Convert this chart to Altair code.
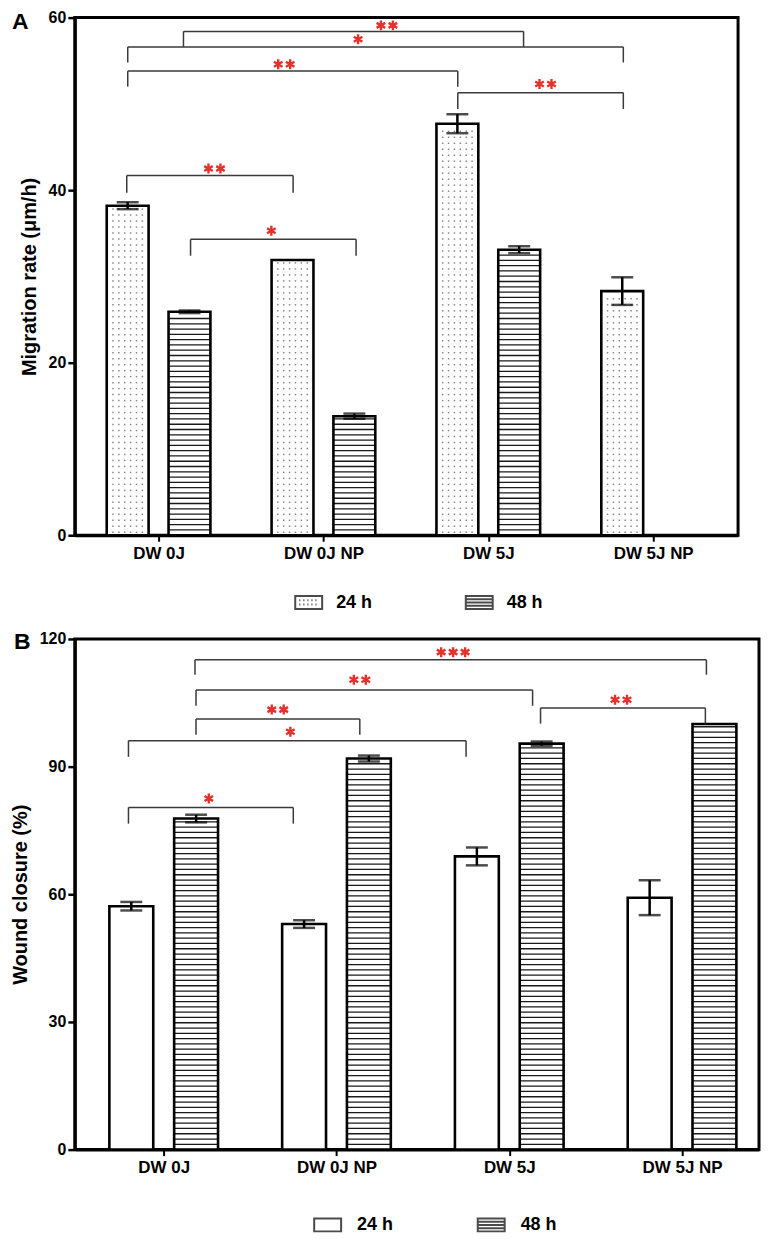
import altair as alt
import pandas as pd

# ---------------- data ----------------
groups = ["DW 0J", "DW 0J NP", "DW 5J", "DW 5J NP"]
series = ["24 h", "48 h"]

# Panel A: migration rate (um/h)
a_24 = [38.2, 31.9, 47.7, 28.3]
a_24_err = [0.4, 0.0, 1.1, 1.6]
a_48 = [25.9, 13.8, 33.1, None]
a_48_err = [0.15, 0.3, 0.4, None]

# Panel B: wound closure (%)
b_24 = [57.2, 53.0, 68.9, 59.2]
b_24_err = [1.0, 0.9, 2.1, 4.1]
b_48 = [77.8, 91.9, 95.4, 100.0]
b_48_err = [0.9, 0.7, 0.5, 0.0]

# significance brackets (x in group units, y in data units)
a_br_x1 = [0.651, 0.313, 0.313, 2.315, 0.307, 0.694]
a_br_x2 = [2.714, 3.319, 2.315, 3.319, 1.316, 1.698]
a_br_y = [58.4, 56.6, 53.8, 51.3, 41.7, 34.3]
a_br_tip = [56.6, 54.8, 52.0, 49.4, 39.7, 32.4]
a_br_n = [2, 1, 2, 2, 2, 1]
a_br_sx = [1.885, 1.710, 1.262, 2.847, 0.839, 1.184]
a_br_sy = [59.1, 57.5, 54.6, 52.3, 42.5, 35.3]

b_br_x1 = [0.681, 0.687, 0.687, 0.296, 2.681, 0.296]
b_br_x2 = [3.641, 2.635, 1.635, 2.250, 3.635, 1.250]
b_br_y = [115.1, 108.0, 101.2, 96.1, 103.8, 80.4]
b_br_tip = [111.6, 104.3, 97.5, 92.3, 100.1, 76.6]
b_br_n = [3, 2, 2, 1, 2, 1]
b_br_sx = [2.175, 1.635, 1.160, 1.233, 3.147, 0.761]
b_br_sy = [116.9, 110.4, 103.4, 98.2, 105.7, 82.5]

FONT = "Liberation Sans"
RED = "#e5302b"
STAR = "M0,-1V1M-0.866,-0.5L0.866,0.5M-0.866,0.5L0.866,-0.5"
RECT = "M-1,-0.48H1V0.48H-1Z"
STRIPES = RECT + "M-1,-0.24H1M-1,0H1M-1,0.24H1"
DOTS = RECT + "".join(
    f"M{x:.2f},{y:.2f}h0.08" for y in (-0.18, 0.14) for x in (-0.7, -0.4, -0.1, 0.2, 0.5)
)

OFF = 0.1875
HALF = 0.127


def bars_table(v24, e24, v48, e48):
    rows = []
    for i, g in enumerate(groups):
        for s, vals, errs, off in (("24 h", v24, e24, -OFF), ("48 h", v48, e48, OFF)):
            v = vals[i]
            if v is None:
                continue
            c = i + 0.5 + off
            rows.append(dict(group=g, series=s, xc=c, x0=c - HALF, x1=c + HALF,
                             value=v, err=errs[i], lo=v - errs[i], hi=v + errs[i]))
    return pd.DataFrame(rows)


def panel(v24, e24, v48, e48, br, xdom, ydom, yticks, ytitle, width, height,
          pxu_x, pxu_y, letter, dotted, sym24, legx, legy, colpad, laboff, letter_xy):
    df = bars_table(v24, e24, v48, e48)
    xs = alt.Scale(domain=xdom, nice=False, zero=False)
    ys = alt.Scale(domain=ydom, nice=False, zero=False)
    labexpr = "[" + ",".join(f"'{g}'" for g in groups) + "][floor(datum.value)]"
    xaxis = alt.Axis(values=[0.5, 1.5, 2.5, 3.5], labelExpr=labexpr, title=None,
                     grid=False, tickSize=6, tickWidth=2, labelFontSize=17,
                     labelPadding=4, domainWidth=3)
    yaxis = alt.Axis(values=yticks, title=ytitle, grid=False, tickSize=7, tickWidth=2.5,
                     labelFontSize=16, labelPadding=2, titleFontSize=20,
                     titlePadding=9, domainWidth=3)

    def X(f):
        return alt.X(f, type="quantitative", scale=xs, axis=xaxis)

    def Y(f):
        return alt.Y(f, type="quantitative", scale=ys, axis=yaxis)

    base = alt.Chart(df)
    legend_pts = base.mark_point(size=0, filled=False, stroke="black").encode(
        x=X("xc"), y=Y("value"),
        shape=alt.Shape("series:N", scale=alt.Scale(domain=series, range=[sym24, STRIPES]),
                        legend=alt.Legend(orient="none", legendX=legx, legendY=legy,
                                          direction="horizontal", title=None,
                                          symbolSize=729, symbolStrokeWidth=2,
                                          symbolStrokeColor="black", symbolFillColor="white",
                                          labelFontSize=18, labelFontWeight="bold",
                                          labelFont=FONT, labelColor="black",
                                          labelOffset=laboff, columnPadding=colpad,
                                          padding=0)),
    )
    fill = base.mark_rect(fill="white").encode(x=X("x0"), x2="x1", y=Y("value"), y2=alt.datum(0))

    # stripes for 48 h bars
    srows = []
    step = 5.3 / pxu_y
    for _, r in df[df.series == "48 h"].iterrows():
        y = step
        while y < r.value - step * 0.4:
            srows.append(dict(x0=r.x0, x1=r.x1, y=y))
            y += step
    stripes = alt.Chart(pd.DataFrame(srows)).mark_rule(color="#1a1a1a", strokeWidth=1.3).encode(
        x=X("x0"), x2="x1", y=Y("y"))
    layers = [legend_pts, fill, stripes]

    if dotted:
        drows = []
        dstep_y = 6.0 / pxu_y
        offs = [k * 5.9 / pxu_x for k in (-2.5, -1.5, -0.5, 0.5, 1.5, 2.5)]
        for _, r in df[df.series == "24 h"].iterrows():
            y = 3.0 / pxu_y
            while y < r.value - 2.0 / pxu_y:
                for o in offs:
                    drows.append(dict(x=r.xc + o, y=y))
                y += dstep_y
        dots = alt.Chart(pd.DataFrame(drows)).mark_square(size=2.2, color="#858585", opacity=1).encode(
            x=X("x"), y=Y("y"))
        layers.append(dots)

    outline = base.mark_rect(fill=None, stroke="black", strokeWidth=2.6).encode(
        x=X("x0"), x2="x1", y=Y("value"), y2=alt.datum(0))
    layers.append(outline)

    edf = df[df.err > 0]
    ebar = alt.Chart(edf).mark_rule(color="black", strokeWidth=2.5).encode(
        x=X("xc"), y=Y("lo"), y2="hi")
    cap_lo = alt.Chart(edf).mark_tick(color="black", orient="horizontal", size=22, thickness=2.5).encode(
        x=X("xc"), y=Y("lo"))
    cap_hi = alt.Chart(edf).mark_tick(color="black", orient="horizontal", size=22, thickness=2.5).encode(
        x=X("xc"), y=Y("hi"))
    layers += [ebar, cap_lo, cap_hi]

    x1s, x2s, ys_, tips, ns, sxs, sys_ = br
    segs = []
    stars = []
    sp = 12.0 / pxu_x
    for i in range(len(x1s)):
        segs.append(dict(xa=x1s[i], xb=x2s[i], ya=ys_[i], yb=ys_[i]))
        segs.append(dict(xa=x1s[i], xb=x1s[i], ya=ys_[i], yb=tips[i]))
        segs.append(dict(xa=x2s[i], xb=x2s[i], ya=ys_[i], yb=tips[i]))
        n = ns[i]
        for k in range(n):
            stars.append(dict(x=sxs[i] + (k - (n - 1) / 2) * sp, y=sys_[i]))
    br_rules = alt.Chart(pd.DataFrame(segs)).mark_rule(color="#3a3a3a", strokeWidth=1.5).encode(
        x=X("xa"), x2="xb", y=Y("ya"), y2="yb")
    star_pts = alt.Chart(pd.DataFrame(stars)).mark_point(
        shape=STAR, size=100, filled=False, stroke=RED, strokeWidth=2.4, opacity=1).encode(
        x=X("x"), y=Y("y"))
    letter_txt = alt.Chart(pd.DataFrame({"t": [letter]})).mark_text(
        align="left", baseline="top", fontSize=23, fontWeight="bold", font=FONT,
        color="black").encode(x=alt.value(letter_xy[0]), y=alt.value(letter_xy[1]), text="t:N")
    layers += [br_rules, star_pts, letter_txt]

    return alt.layer(*layers).properties(width=width, height=height)


panelA = panel(a_24, a_24_err, a_48, a_48_err,
               (a_br_x1, a_br_x2, a_br_y, a_br_tip, a_br_n, a_br_sx, a_br_sy),
               [-0.008, 4.015], [0, 60], [0, 20, 40, 60], "Migration rate (μm/h)",
               665, 519, 165.3, 8.65, "A", True, DOTS, 220, 572, 89, 13, (-63, -7))
panelB = panel(b_24, b_24_err, b_48, b_48_err,
               (b_br_x1, b_br_x2, b_br_y, b_br_tip, b_br_n, b_br_sx, b_br_sy),
               [-0.0144, 3.9454], [0, 120], [0, 30, 60, 90, 120], "Wound closure (%)",
               686, 512, 173.2, 4.267, "B", False, RECT, 239, 573, 80, 15, (-61, -8))

chart = alt.vconcat(panelA, panelB, spacing=14).resolve_scale(
    x="independent", y="independent", shape="independent"
).resolve_legend(shape="independent").resolve_axis(x="independent", y="independent").properties(
    padding={"left": 0, "top": -2, "right": 0, "bottom": 0}
).configure(font=FONT).configure_view(stroke="black", strokeWidth=3).configure_axis(
    labelFont=FONT, titleFont=FONT, labelFontWeight="bold", titleFontWeight="bold",
    labelColor="black", titleColor="black", tickColor="black", domainColor="black"
)

chart.save("out.html", embed_options={"renderer": "svg", "actions": False})
